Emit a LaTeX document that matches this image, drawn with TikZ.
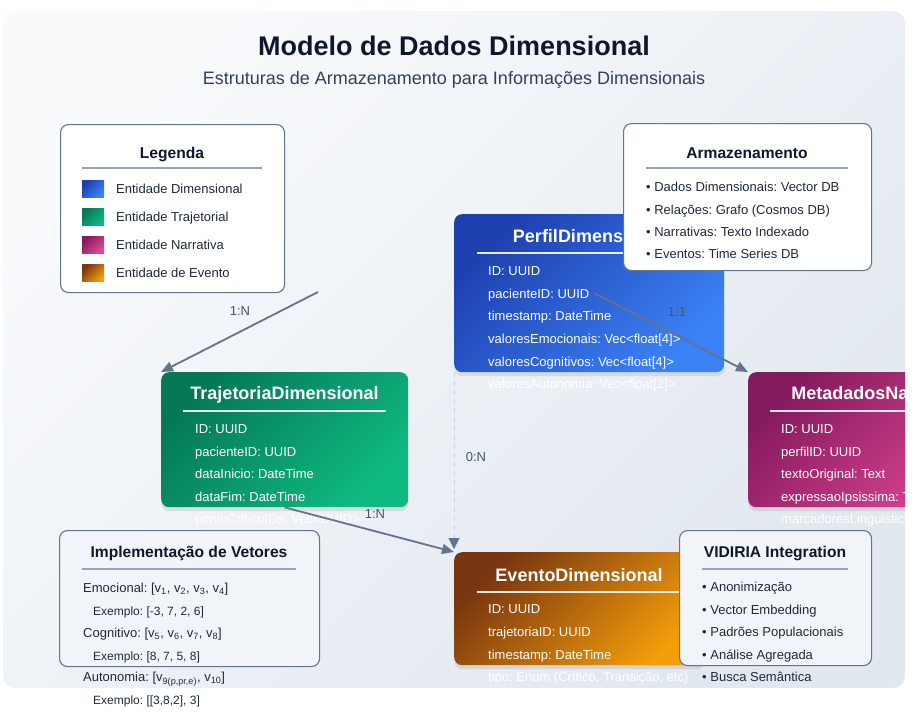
\documentclass[tikz,border=0pt]{standalone}
\usepackage{fontspec}
\setmainfont{Liberation Sans}
\usetikzlibrary{arrows.meta,shadows}
\frenchspacing

\definecolor{ink}{HTML}{0F172A}
\definecolor{subink}{HTML}{334155}
\definecolor{bodyink}{HTML}{1F2937}
\definecolor{labelink}{HTML}{475569}
\definecolor{slate}{HTML}{64748B}
\definecolor{rulegray}{HTML}{94A3B8}
\definecolor{dashgray}{HTML}{CBD5E1}
\definecolor{panelA}{HTML}{F8FAFC}
\definecolor{panelB}{HTML}{E2E8F0}
\definecolor{softfill}{HTML}{F1F5F9}
\definecolor{blueA}{HTML}{1E40AF}
\definecolor{blueB}{HTML}{3B82F6}
\definecolor{greenA}{HTML}{047857}
\definecolor{greenB}{HTML}{10B981}
\definecolor{pinkA}{HTML}{861A5E}
\definecolor{pinkB}{HTML}{E04896}
\definecolor{amberA}{HTML}{78350F}
\definecolor{amberB}{HTML}{F59E0B}

\newcommand{\fsize}[1]{\fontsize{#1}{#1}\selectfont}

\tikzset{
  entity/.style={rectangle, rounded corners=8pt, draw=none, anchor=north west,
    inner sep=0pt, drop shadow={opacity=0.18, shadow xshift=0pt, shadow yshift=-4pt}},
  blueshade/.style={left color=blueA, right color=blueB, shading angle=45},
  greenshade/.style={left color=greenA, right color=greenB, shading angle=45},
  pinkshade/.style={left color=pinkA, right color=pinkB, shading angle=45},
  ambershade/.style={left color=amberA, right color=amberB, shading angle=45},
  card/.style={rectangle, rounded corners=8pt, draw=slate, line width=1.1pt,
    fill=white, anchor=north west, inner sep=0pt},
  softcard/.style={card, fill=softfill},
  enttitle/.style={anchor=base, inner sep=0pt, text=white, font=\bfseries\fsize{18}},
  cardtitle/.style={anchor=base, inner sep=0pt, text=ink, font=\bfseries\fsize{15.6}},
  field/.style={anchor=base west, inner sep=0pt, text=white, font=\fsize{13}},
  item/.style={anchor=base west, inner sep=0pt, text=bodyink, font=\fsize{13}},
  smallitem/.style={anchor=base west, inner sep=0pt, text=bodyink, font=\fsize{12}},
  whiterule/.style={draw=white, line width=1.2pt, opacity=0.9},
  grayrule/.style={draw=rulegray, line width=1.2pt},
  swatch/.style={rectangle, anchor=north west, inner sep=0pt,
    minimum width=22pt, minimum height=17pt},
  rel/.style={draw=slate, line width=1.8pt, -{Triangle[length=12pt,width=10pt]}},
  optrel/.style={draw=dashgray, line width=1pt, dash pattern=on 5pt off 4pt,
    -{Triangle[length=11pt,width=11pt,color=slate]}},
  card lbl/.style={inner sep=0pt, text=labelink, font=\fsize{13}}
}

\begin{document}
\begin{tikzpicture}[x=1pt,y=-1pt]
\useasboundingbox (0,0) rectangle (916,715);

% backdrop panel
\shade[rounded corners=12pt, left color=panelA, right color=panelB, shading angle=45]
  (3,11) rectangle (905,688);

% heading
\node[anchor=base, inner sep=0pt, text=ink, font=\bfseries\fsize{27}] (title) at (454,55.7)
  {Modelo de Dados Dimensional};
\node[anchor=base, inner sep=0pt, text=subink, font=\fsize{18}] (subtitle) at (454,84.5)
  {Estruturas de Armazenamento para Informações Dimensionais};

% legend
\node[card, minimum width=224pt, minimum height=168pt] (legend) at (60,124) {};
\node[cardtitle] (legend-t) at (172,158.5) {Legenda};
\draw[grayrule] (82,168) -- (262,168);
\node[swatch, blueshade]  (sw1) at (82,180) {};
\node[swatch, greenshade] (sw2) at (82,208) {};
\node[swatch, pinkshade]  (sw3) at (82,236) {};
\node[swatch, ambershade] (sw4) at (82,264) {};
\node[item] (lg1) at (116,193) {Entidade Dimensional};
\node[item] (lg2) at (116,221) {Entidade Trajetorial};
\node[item] (lg3) at (116,249) {Entidade Narrativa};
\node[item] (lg4) at (116,277) {Entidade de Evento};

% PerfilDimensional
\node[entity, blueshade, minimum width=270pt, minimum height=158pt] (perfil) at (454,214) {};
\node[enttitle] (perfil-t) at (589,242.5) {PerfilDimensional};
\draw[whiterule] (477,253) -- (701,253);
\foreach \t [count=\i] in {ID: UUID, pacienteID: UUID, timestamp: DateTime,
    valoresEmocionais: Vec<float[4]>, valoresCognitivos: Vec<float[4]>,
    valoresAutonomia: Vec<float[2]>}
  \node[field] (pf-\i) at (488,{275.6+22.6*(\i-1)}) {\t};
\coordinate (pac-end) at (594,293);

% storage card
\node[card, minimum width=248pt, minimum height=147pt] (storage) at (623,123) {};
\node[cardtitle] (storage-t) at (747,158.5) {Armazenamento};
\draw[grayrule] (646,168) -- (848,168);
\foreach \t [count=\i] in {• Dados Dimensionais: Vector DB, • Relações: Grafo (Cosmos DB),
    • Narrativas: Texto Indexado, • Eventos: Time Series DB}
  \node[item] (st-\i) at (646,{191.6+22.4*(\i-1)}) {\t};

% TrajetoriaDimensional
\node[entity, greenshade, minimum width=247pt, minimum height=135pt] (traj) at (161,372) {};
\node[enttitle] (traj-t) at (284.5,399.5) {TrajetoriaDimensional};
\draw[whiterule] (183,411) -- (386,411);
\foreach \t [count=\i] in {ID: UUID, pacienteID: UUID, dataInicio: DateTime,
    dataFim: DateTime, pontoCriticoIDs: Vec<UUID>}
  \node[field] (tr-\i) at (195,{433.6+22.5*(\i-1)}) {\t};

% MetadadosNarrativos (runs past the panel edge)
\begin{scope}
  \clip (0,0) rectangle (905,715);
  \node[entity, pinkshade, minimum width=270pt, minimum height=135pt] (meta) at (748,372) {};
  \node[enttitle] (meta-t) at (883,399.5) {MetadadosNarrativos};
  \draw[whiterule] (770,411) -- (996,411);
  \foreach \t [count=\i] in {ID: UUID, perfilID: UUID, textoOriginal: Text,
      expressaoIpsissima: Text, marcadoresLinguisticos: Vec<String>}
    \node[field] (mt-\i) at (781,{433.6+22.5*(\i-1)}) {\t};
\end{scope}

% EventoDimensional
\node[entity, ambershade, minimum width=250pt, minimum height=113pt] (evento) at (454,552) {};
\node[enttitle] (evento-t) at (579,581.5) {EventoDimensional};
\draw[whiterule] (477,592) -- (681,592);
\foreach \t [count=\i] in {ID: UUID, trajetoriaID: UUID, timestamp: DateTime,
    {tipo: Enum (Crítico, Transição, etc)}}
  \node[field] (ev-\i) at (488,{613.6+22.7*(\i-1)}) {\t};

% vector layout card
\node[softcard, minimum width=260pt, minimum height=136pt] (vec) at (59,530) {};
\node[cardtitle] (vec-t) at (189,557.5) {Implementação de Vetores};
\draw[grayrule] (82,569) -- (296,569);
\node[item] (vec-1) at (83,592.6)
  {Emocional: [v\textsubscript{1}, v\textsubscript{2}, v\textsubscript{3}, v\textsubscript{4}]};
\node[smallitem] (vec-2) at (93,615.3) {Exemplo: [-3, 7, 2, 6]};
\node[item] (vec-3) at (83,637.6)
  {Cognitivo: [v\textsubscript{5}, v\textsubscript{6}, v\textsubscript{7}, v\textsubscript{8}]};
\node[smallitem] (vec-4) at (93,660.3) {Exemplo: [8, 7, 5, 8]};
\node[item] (vec-5) at (83,681.6)
  {Autonomia: [v\textsubscript{9(p,pr,e)}, v\textsubscript{10}]};
\node[smallitem] (vec-6) at (93,704.3) {Exemplo: [[3,8,2], 3]};

% integration card
\node[softcard, minimum width=192pt, minimum height=135pt] (vidiria) at (679,530) {};
\node[cardtitle] (vidiria-t) at (775,557.5) {VIDIRIA Integration};
\draw[grayrule] (702,569) -- (848,569);
\foreach \t [count=\i] in {• Anonimização, • Vector Embedding, • Padrões Populacionais,
    • Análise Agregada, • Busca Semântica}
  \node[item] (vd-\i) at (702,{591.6+22.5*(\i-1)}) {\t};

% relations
\coordinate (leg-out) at (318,292);
\draw[rel] (leg-out) -- (traj.north west);
\node[card lbl] (r1) at (240,311) {1:N};
\draw[rel] (pac-end) -- (meta.north west);
\node[card lbl] (r2) at (677,312) {1:1};
\draw[optrel, shorten >=3pt] (perfil.south west) -- (evento.north west);
\node[card lbl] (r3) at (476,457) {0:N};
\draw[rel] (traj.south) -- (evento.north west);
\node[card lbl] (r4) at (375,514) {1:N};
\end{tikzpicture}
\end{document}
